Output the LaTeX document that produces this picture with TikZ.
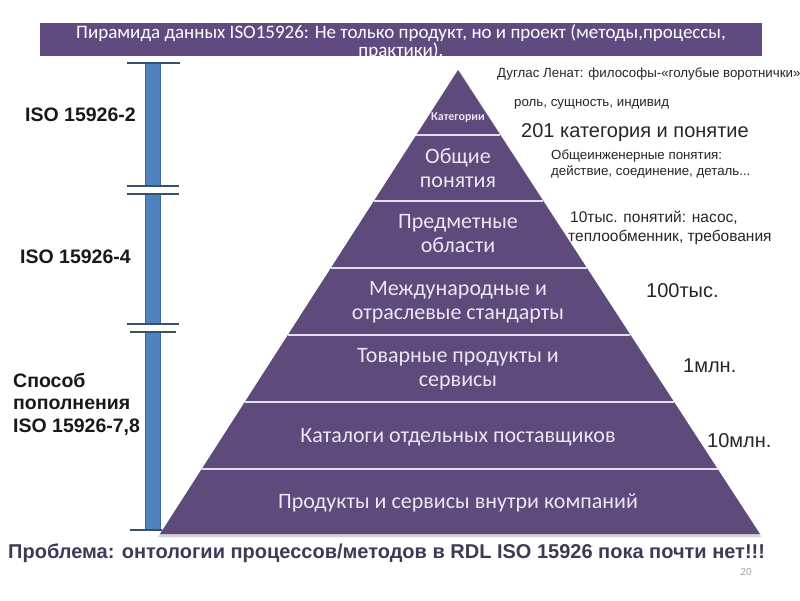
\documentclass[tikz,border=0pt]{standalone}
\usepackage{fontspec}
\setmainfont{Liberation Sans}
\newfontfamily\calib{Carlito}
\usetikzlibrary{calc}
\definecolor{pyr}{HTML}{5E4A7B}
\definecolor{titlebar}{HTML}{5F4B80}
\definecolor{pyrtext}{HTML}{ECE6F3}
\definecolor{sepline}{HTML}{E4DDEE}
\definecolor{barblue}{HTML}{4F81BD}
\definecolor{baredge}{HTML}{3D6A9E}
\definecolor{capline}{HTML}{34506E}
\definecolor{probtext}{HTML}{3B3B55}
\newcommand{\fsz}[2]{\fontsize{#1}{#2}\selectfont}
\begin{document}
\begin{tikzpicture}[x=1pt,y=-1pt,
  lvl/.style={font=\calib\fsz{22}{24}, text=pyrtext, align=center, inner sep=0},
  note/.style={anchor=west, inner sep=0, text=black!85, align=left},
  small/.style={note, font=\fsz{13.3}{16}},
  big/.style={note, font=\fsz{20}{22}},
  lefttxt/.style={anchor=west, inner sep=0, text=black!90, align=left, font=\bfseries\fsz{19.5}{22.5}},
  barseg/.style={fill=barblue, draw=baredge, line width=0.8},
  capstyle/.style={draw=capline, line width=1.5},
  sep/.style={draw=sepline, line width=2.5}]
\useasboundingbox (0,0) rectangle (800,600);
\fill[white] (0,0) rectangle (800,600);

% title bar
\fill[titlebar] (40,23) rectangle (762,56);
\begin{scope}
  \clip (40,23) rectangle (762,56);
  \node[font=\calib\fsz{19}{18.5}, text=white, align=center, inner sep=0] (title) at (401,42)
    {Пирамида данных ISO15926: Не только продукт, но и проект (методы,процессы,\\практики).};
\end{scope}

% pyramid
\coordinate (A) at (458,70);
\coordinate (BL) at (160,534);
\coordinate (BR) at (760,534);
\fill[gray!35] ($(A)+(1.5,1)$) -- ($(BR)+(1.5,3)$) -- ($(BL)+(-2,3)$) -- cycle;
\fill[pyr] (A) -- (BR) -- (BL) -- cycle;
\foreach \t/\n in {0.1401/1, 0.2823/2, 0.4267/3, 0.5711/4, 0.7155/5, 0.8599/6}{
  \coordinate (SL\n) at ($(A)!\t!(BL)$);
  \coordinate (SR\n) at ($(A)!\t!(BR)$);
  \draw[sep] (SL\n) -- (SR\n);
}

\node[font=\calib\bfseries\fsz{12}{12}, text=pyrtext, inner sep=0] (cat) at (458,118) {Категории};
\node[lvl] (l1) at (458,168) {Общие\\понятия};
\node[lvl] (l2) at (458,234) {Предметные\\области};
\node[lvl] (l3) at (458,302) {Международные и\\отраслевые стандарты};
\node[lvl] (l4) at (458,369) {Товарные продукты и\\сервисы};
\node[lvl] (l5) at (458,437) {Каталоги отдельных поставщиков};
\node[lvl] (l6) at (458,503) {Продукты и сервисы внутри компаний};

% blue bar
\draw[barseg] (145,63) rectangle (160,186);
\draw[barseg] (145,194) rectangle (160,324);
\draw[barseg] (145,332) rectangle (160,530);
\draw[capstyle] (127,63) -- (180,63);
\draw[capstyle] (127,186) -- (179,186);
\draw[capstyle] (127,194) -- (179,194);
\draw[capstyle] (127,324) -- (179,324);
\draw[capstyle] (130,332) -- (176,332);
\draw[capstyle] (130,530) -- (162,530);

% left labels
\node[lefttxt] (iso2) at (25,115) {ISO 15926-2};
\node[lefttxt] (iso4) at (20,257) {ISO 15926-4};
\node[lefttxt] (iso78) at (13,404) {Способ\\пополнения\\ISO 15926-7,8};

% right notes
\node[small] (lenat) at (497,74) {Дуглас Ленат: философы-«голубые воротнички»};
\node[small] (role) at (514,104) {роль, сущность, индивид};
\node[big] (cat201) at (521,133) {201 категория и понятие};
\node[small] (gen) at (551,164) {Общеинженерные понятия:\\действие, соединение, деталь...};
\node[small, font=\fsz{15.5}{19}] (dom) at (568,228) {\hspace*{2pt}10тыс. понятий: насос,\\теплообменник, требования};
\node[big] (n100) at (646,291) {100тыс.};
\node[big] (n1m) at (683,366) {1млн.};
\node[big] (n10m) at (707,441) {10млн.};

% bottom
\node[anchor=west, inner sep=0, text=probtext, font=\bfseries\fsz{20}{22}] (prob) at (8,553)
  {Проблема: онтологии процессов/методов в RDL ISO 15926 пока почти нет!!!};
\node[inner sep=0, text=gray!70, font=\calib\fsz{11}{12}] (pg) at (746,572) {20};
\end{tikzpicture}
\end{document}
